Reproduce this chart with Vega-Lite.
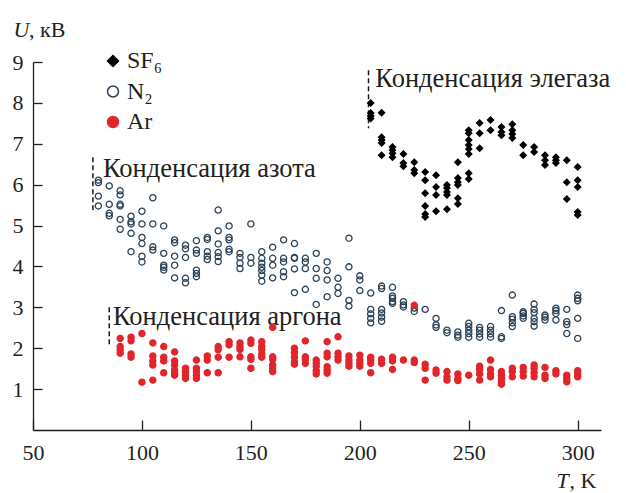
{
"$schema":"https://vega.github.io/schema/vega-lite/v6.json",
"width":568,"height":368,
"autosize":"none",
"padding":{"left":33,"top":62,"right":25,"bottom":63},
"background":"white",
"config":{"view":{"stroke":null},"font":"'Liberation Serif', serif"},
"datasets":{
"notes":[
{"T":82.1,"U":6.19,"label":"Конденсация азота"},
{"T":207.1,"U":8.39,"label":"Конденсация элегаза"},
{"T":86.7,"U":2.57,"label":"Конденсация аргона"}],
"lines":[
{"T":77.5,"U1":6.67,"U2":5.38},
{"T":204,"U1":8.8,"U2":7.38},
{"T":85,"U1":3.0,"U2":2.08}],
"pts":[
{"gas":"SF6","T":205,"U":8.0},{"gas":"SF6","T":205,"U":7.75},{"gas":"SF6","T":205,"U":7.68},{"gas":"SF6","T":205,"U":7.62},
{"gas":"SF6","T":210,"U":7.76},{"gas":"SF6","T":210,"U":7.16},{"gas":"SF6","T":210,"U":7.09},{"gas":"SF6","T":210,"U":7.02},{"gas":"SF6","T":210,"U":6.72},
{"gas":"SF6","T":215,"U":6.92},{"gas":"SF6","T":215,"U":6.85},{"gas":"SF6","T":215,"U":6.77},{"gas":"SF6","T":215,"U":6.67},
{"gas":"SF6","T":220,"U":6.75},{"gas":"SF6","T":220,"U":6.53},{"gas":"SF6","T":220,"U":6.45},
{"gas":"SF6","T":225,"U":6.55},{"gas":"SF6","T":225,"U":6.36},{"gas":"SF6","T":225,"U":6.28},
{"gas":"SF6","T":230,"U":6.31},{"gas":"SF6","T":230,"U":6.11},{"gas":"SF6","T":230,"U":5.79},{"gas":"SF6","T":230,"U":5.48},{"gas":"SF6","T":230,"U":5.28},{"gas":"SF6","T":230,"U":5.21},
{"gas":"SF6","T":235,"U":6.23},{"gas":"SF6","T":235,"U":5.94},{"gas":"SF6","T":235,"U":5.75},{"gas":"SF6","T":235,"U":5.35},
{"gas":"SF6","T":240,"U":5.99},{"gas":"SF6","T":240,"U":5.92},{"gas":"SF6","T":240,"U":5.82},{"gas":"SF6","T":240,"U":5.75},{"gas":"SF6","T":240,"U":5.40},
{"gas":"SF6","T":245,"U":6.55},{"gas":"SF6","T":245,"U":6.16},{"gas":"SF6","T":245,"U":6.06},{"gas":"SF6","T":245,"U":5.99},{"gas":"SF6","T":245,"U":5.67},{"gas":"SF6","T":245,"U":5.53},
{"gas":"SF6","T":250,"U":7.33},{"gas":"SF6","T":250,"U":7.26},{"gas":"SF6","T":250,"U":7.09},{"gas":"SF6","T":250,"U":6.97},{"gas":"SF6","T":250,"U":6.87},{"gas":"SF6","T":250,"U":6.75},{"gas":"SF6","T":250,"U":6.28},{"gas":"SF6","T":250,"U":6.14},
{"gas":"SF6","T":255,"U":7.51},{"gas":"SF6","T":255,"U":7.26},{"gas":"SF6","T":255,"U":6.89},
{"gas":"SF6","T":260,"U":7.58},{"gas":"SF6","T":260,"U":7.33},
{"gas":"SF6","T":265,"U":7.41},{"gas":"SF6","T":265,"U":7.29},{"gas":"SF6","T":265,"U":7.21},
{"gas":"SF6","T":270,"U":7.48},{"gas":"SF6","T":270,"U":7.33},{"gas":"SF6","T":270,"U":7.24},{"gas":"SF6","T":270,"U":7.14},
{"gas":"SF6","T":275,"U":6.97},{"gas":"SF6","T":275,"U":6.72},
{"gas":"SF6","T":280,"U":6.92},{"gas":"SF6","T":280,"U":6.80},
{"gas":"SF6","T":285,"U":6.72},{"gas":"SF6","T":285,"U":6.60},{"gas":"SF6","T":285,"U":6.48},
{"gas":"SF6","T":290,"U":6.67},{"gas":"SF6","T":290,"U":6.60},{"gas":"SF6","T":290,"U":6.53},
{"gas":"SF6","T":295,"U":6.60},{"gas":"SF6","T":295,"U":6.06},{"gas":"SF6","T":295,"U":5.65},
{"gas":"SF6","T":300,"U":6.43},{"gas":"SF6","T":300,"U":6.11},{"gas":"SF6","T":300,"U":5.94},{"gas":"SF6","T":300,"U":5.33},{"gas":"SF6","T":300,"U":5.26},
{"gas":"N2","T":80,"U":6.11},{"gas":"N2","T":80,"U":6.05},{"gas":"N2","T":80,"U":5.72},{"gas":"N2","T":80,"U":5.48},
{"gas":"N2","T":85,"U":5.97},{"gas":"N2","T":85,"U":5.52},{"gas":"N2","T":85,"U":5.30},{"gas":"N2","T":85,"U":5.24},
{"gas":"N2","T":90,"U":5.85},{"gas":"N2","T":90,"U":5.75},{"gas":"N2","T":90,"U":5.52},{"gas":"N2","T":90,"U":5.48},{"gas":"N2","T":90,"U":5.15},{"gas":"N2","T":90,"U":4.91},
{"gas":"N2","T":95,"U":5.23},{"gas":"N2","T":95,"U":5.09},{"gas":"N2","T":95,"U":5.04},{"gas":"N2","T":95,"U":4.81},{"gas":"N2","T":95,"U":4.36},
{"gas":"N2","T":100,"U":5.35},{"gas":"N2","T":100,"U":5.04},{"gas":"N2","T":100,"U":4.71},{"gas":"N2","T":100,"U":4.56},{"gas":"N2","T":100,"U":4.25},{"gas":"N2","T":100,"U":4.11},
{"gas":"N2","T":105,"U":5.68},{"gas":"N2","T":105,"U":5.04},{"gas":"N2","T":105,"U":4.48},{"gas":"N2","T":105,"U":4.40},
{"gas":"N2","T":110,"U":4.99},{"gas":"N2","T":110,"U":4.32},{"gas":"N2","T":110,"U":4.03},{"gas":"N2","T":110,"U":3.98},{"gas":"N2","T":110,"U":3.91},
{"gas":"N2","T":115,"U":4.65},{"gas":"N2","T":115,"U":4.58},{"gas":"N2","T":115,"U":4.25},{"gas":"N2","T":115,"U":4.03},{"gas":"N2","T":115,"U":3.72},
{"gas":"N2","T":120,"U":4.52},{"gas":"N2","T":120,"U":4.43},{"gas":"N2","T":120,"U":4.22},{"gas":"N2","T":120,"U":3.71},{"gas":"N2","T":120,"U":3.60},
{"gas":"N2","T":125,"U":4.63},{"gas":"N2","T":125,"U":4.40},{"gas":"N2","T":125,"U":4.32},{"gas":"N2","T":125,"U":3.91},{"gas":"N2","T":125,"U":3.83},{"gas":"N2","T":125,"U":3.75},
{"gas":"N2","T":130,"U":4.71},{"gas":"N2","T":130,"U":4.66},{"gas":"N2","T":130,"U":4.36},{"gas":"N2","T":130,"U":4.25},{"gas":"N2","T":130,"U":4.17},
{"gas":"N2","T":135,"U":5.38},{"gas":"N2","T":135,"U":4.87},{"gas":"N2","T":135,"U":4.55},{"gas":"N2","T":135,"U":4.34},{"gas":"N2","T":135,"U":4.24},{"gas":"N2","T":135,"U":4.12},
{"gas":"N2","T":140,"U":4.99},{"gas":"N2","T":140,"U":4.71},{"gas":"N2","T":140,"U":4.65},{"gas":"N2","T":140,"U":4.42},{"gas":"N2","T":140,"U":4.36},
{"gas":"N2","T":145,"U":4.32},{"gas":"N2","T":145,"U":4.22},{"gas":"N2","T":145,"U":4.08},{"gas":"N2","T":145,"U":3.95},
{"gas":"N2","T":150,"U":5.04},{"gas":"N2","T":150,"U":4.22},{"gas":"N2","T":150,"U":4.08},
{"gas":"N2","T":155,"U":4.36},{"gas":"N2","T":155,"U":4.20},{"gas":"N2","T":155,"U":4.08},{"gas":"N2","T":155,"U":3.98},{"gas":"N2","T":155,"U":3.90},{"gas":"N2","T":155,"U":3.79},{"gas":"N2","T":155,"U":3.64},
{"gas":"N2","T":160,"U":4.47},{"gas":"N2","T":160,"U":4.20},{"gas":"N2","T":160,"U":4.03},{"gas":"N2","T":160,"U":3.72},
{"gas":"N2","T":165,"U":4.65},{"gas":"N2","T":165,"U":4.20},{"gas":"N2","T":165,"U":4.11},{"gas":"N2","T":165,"U":3.87},{"gas":"N2","T":165,"U":3.75},
{"gas":"N2","T":170,"U":4.56},{"gas":"N2","T":170,"U":4.22},{"gas":"N2","T":170,"U":4.20},{"gas":"N2","T":170,"U":3.94},{"gas":"N2","T":170,"U":3.36},
{"gas":"N2","T":175,"U":4.20},{"gas":"N2","T":175,"U":4.11},{"gas":"N2","T":175,"U":3.95},{"gas":"N2","T":175,"U":3.44},
{"gas":"N2","T":180,"U":4.32},{"gas":"N2","T":180,"U":3.95},{"gas":"N2","T":180,"U":3.71},{"gas":"N2","T":180,"U":3.07},
{"gas":"N2","T":185,"U":4.11},{"gas":"N2","T":185,"U":3.90},{"gas":"N2","T":185,"U":3.67},{"gas":"N2","T":185,"U":3.26},
{"gas":"N2","T":190,"U":3.71},{"gas":"N2","T":190,"U":3.49},{"gas":"N2","T":190,"U":3.34},
{"gas":"N2","T":195,"U":4.69},{"gas":"N2","T":195,"U":3.99},{"gas":"N2","T":195,"U":3.17},{"gas":"N2","T":195,"U":3.03},
{"gas":"N2","T":200,"U":3.77},{"gas":"N2","T":200,"U":3.67},{"gas":"N2","T":200,"U":3.41},
{"gas":"N2","T":205,"U":3.35},{"gas":"N2","T":205,"U":2.95},{"gas":"N2","T":205,"U":2.84},{"gas":"N2","T":205,"U":2.73},{"gas":"N2","T":205,"U":2.62},
{"gas":"N2","T":210,"U":3.52},{"gas":"N2","T":210,"U":3.46},{"gas":"N2","T":210,"U":2.95},{"gas":"N2","T":210,"U":2.86},{"gas":"N2","T":210,"U":2.76},{"gas":"N2","T":210,"U":2.66},
{"gas":"N2","T":215,"U":3.49},{"gas":"N2","T":215,"U":3.28},{"gas":"N2","T":215,"U":3.22},{"gas":"N2","T":215,"U":3.14},{"gas":"N2","T":215,"U":3.10},
{"gas":"N2","T":220,"U":3.14},{"gas":"N2","T":220,"U":3.06},{"gas":"N2","T":220,"U":3.01},
{"gas":"N2","T":225,"U":2.98},{"gas":"N2","T":225,"U":2.90},
{"gas":"N2","T":230,"U":2.95},
{"gas":"N2","T":235,"U":2.73},{"gas":"N2","T":235,"U":2.57},{"gas":"N2","T":235,"U":2.51},
{"gas":"N2","T":240,"U":2.44},{"gas":"N2","T":240,"U":2.38},
{"gas":"N2","T":245,"U":2.40},{"gas":"N2","T":245,"U":2.32},{"gas":"N2","T":245,"U":2.27},
{"gas":"N2","T":250,"U":2.61},{"gas":"N2","T":250,"U":2.53},{"gas":"N2","T":250,"U":2.44},{"gas":"N2","T":250,"U":2.36},{"gas":"N2","T":250,"U":2.27},
{"gas":"N2","T":255,"U":2.51},{"gas":"N2","T":255,"U":2.44},{"gas":"N2","T":255,"U":2.35},{"gas":"N2","T":255,"U":2.27},
{"gas":"N2","T":260,"U":2.53},{"gas":"N2","T":260,"U":2.44},{"gas":"N2","T":260,"U":2.35},{"gas":"N2","T":260,"U":2.27},
{"gas":"N2","T":265,"U":2.92},{"gas":"N2","T":265,"U":2.28},{"gas":"N2","T":265,"U":2.24},
{"gas":"N2","T":270,"U":3.30},{"gas":"N2","T":270,"U":2.77},{"gas":"N2","T":270,"U":2.71},{"gas":"N2","T":270,"U":2.62},{"gas":"N2","T":270,"U":2.53},
{"gas":"N2","T":275,"U":2.89},{"gas":"N2","T":275,"U":2.85},{"gas":"N2","T":275,"U":2.79},{"gas":"N2","T":275,"U":2.73},
{"gas":"N2","T":280,"U":3.08},{"gas":"N2","T":280,"U":2.95},{"gas":"N2","T":280,"U":2.87},{"gas":"N2","T":280,"U":2.73},{"gas":"N2","T":280,"U":2.65},{"gas":"N2","T":280,"U":2.54},
{"gas":"N2","T":285,"U":2.81},{"gas":"N2","T":285,"U":2.76},{"gas":"N2","T":285,"U":2.69},
{"gas":"N2","T":290,"U":2.98},{"gas":"N2","T":290,"U":2.92},{"gas":"N2","T":290,"U":2.85},{"gas":"N2","T":290,"U":2.69},
{"gas":"N2","T":295,"U":2.95},{"gas":"N2","T":295,"U":2.65},{"gas":"N2","T":295,"U":2.58},{"gas":"N2","T":295,"U":2.36},
{"gas":"N2","T":300,"U":3.30},{"gas":"N2","T":300,"U":3.22},{"gas":"N2","T":300,"U":3.16},{"gas":"N2","T":300,"U":2.73},{"gas":"N2","T":300,"U":2.24},
{"gas":"Ar","T":90,"U":2.24},{"gas":"Ar","T":90,"U":2.04},{"gas":"Ar","T":90,"U":1.96},{"gas":"Ar","T":90,"U":1.88},
{"gas":"Ar","T":95,"U":2.27},{"gas":"Ar","T":95,"U":2.18},{"gas":"Ar","T":95,"U":1.86},{"gas":"Ar","T":95,"U":1.78},
{"gas":"Ar","T":100,"U":2.36},{"gas":"Ar","T":100,"U":1.17},
{"gas":"Ar","T":105,"U":2.13},{"gas":"Ar","T":105,"U":1.81},{"gas":"Ar","T":105,"U":1.69},{"gas":"Ar","T":105,"U":1.59},{"gas":"Ar","T":105,"U":1.22},
{"gas":"Ar","T":110,"U":2.04},{"gas":"Ar","T":110,"U":1.78},{"gas":"Ar","T":110,"U":1.69},{"gas":"Ar","T":110,"U":1.40},
{"gas":"Ar","T":115,"U":1.91},{"gas":"Ar","T":115,"U":1.69},{"gas":"Ar","T":115,"U":1.59},{"gas":"Ar","T":115,"U":1.47},{"gas":"Ar","T":115,"U":1.39},{"gas":"Ar","T":115,"U":1.34},
{"gas":"Ar","T":120,"U":1.51},{"gas":"Ar","T":120,"U":1.43},{"gas":"Ar","T":120,"U":1.34},{"gas":"Ar","T":120,"U":1.26},
{"gas":"Ar","T":125,"U":1.71},{"gas":"Ar","T":125,"U":1.51},{"gas":"Ar","T":125,"U":1.43},{"gas":"Ar","T":125,"U":1.34},{"gas":"Ar","T":125,"U":1.26},
{"gas":"Ar","T":130,"U":1.81},{"gas":"Ar","T":130,"U":1.71},{"gas":"Ar","T":130,"U":1.40},
{"gas":"Ar","T":135,"U":2.04},{"gas":"Ar","T":135,"U":1.96},{"gas":"Ar","T":135,"U":1.78},{"gas":"Ar","T":135,"U":1.40},
{"gas":"Ar","T":140,"U":2.16},{"gas":"Ar","T":140,"U":2.08},{"gas":"Ar","T":140,"U":1.78},
{"gas":"Ar","T":145,"U":2.13},{"gas":"Ar","T":145,"U":2.04},{"gas":"Ar","T":145,"U":1.97},{"gas":"Ar","T":145,"U":1.79},
{"gas":"Ar","T":150,"U":2.20},{"gas":"Ar","T":150,"U":2.12},{"gas":"Ar","T":150,"U":1.79},{"gas":"Ar","T":150,"U":1.73},{"gas":"Ar","T":150,"U":1.51},
{"gas":"Ar","T":155,"U":2.16},{"gas":"Ar","T":155,"U":2.05},{"gas":"Ar","T":155,"U":1.97},{"gas":"Ar","T":155,"U":1.86},{"gas":"Ar","T":155,"U":1.78},
{"gas":"Ar","T":160,"U":2.51},{"gas":"Ar","T":160,"U":1.79},{"gas":"Ar","T":160,"U":1.73},{"gas":"Ar","T":160,"U":1.59},{"gas":"Ar","T":160,"U":1.51},{"gas":"Ar","T":160,"U":1.43},
{"gas":"Ar","T":170,"U":2.00},{"gas":"Ar","T":170,"U":1.89},{"gas":"Ar","T":170,"U":1.78},{"gas":"Ar","T":170,"U":1.67},{"gas":"Ar","T":170,"U":1.61},
{"gas":"Ar","T":175,"U":2.18},{"gas":"Ar","T":175,"U":1.79},{"gas":"Ar","T":175,"U":1.73},{"gas":"Ar","T":175,"U":1.63},
{"gas":"Ar","T":180,"U":1.71},{"gas":"Ar","T":180,"U":1.63},{"gas":"Ar","T":180,"U":1.55},{"gas":"Ar","T":180,"U":1.45},{"gas":"Ar","T":180,"U":1.37},
{"gas":"Ar","T":185,"U":2.16},{"gas":"Ar","T":185,"U":1.88},{"gas":"Ar","T":185,"U":1.79},{"gas":"Ar","T":185,"U":1.55},{"gas":"Ar","T":185,"U":1.47},{"gas":"Ar","T":185,"U":1.39},
{"gas":"Ar","T":190,"U":2.28},{"gas":"Ar","T":190,"U":1.88},{"gas":"Ar","T":190,"U":1.79},{"gas":"Ar","T":190,"U":1.71},
{"gas":"Ar","T":195,"U":1.81},{"gas":"Ar","T":195,"U":1.71},{"gas":"Ar","T":195,"U":1.63},{"gas":"Ar","T":195,"U":1.56},
{"gas":"Ar","T":200,"U":1.83},{"gas":"Ar","T":200,"U":1.71},{"gas":"Ar","T":200,"U":1.63},{"gas":"Ar","T":200,"U":1.56},
{"gas":"Ar","T":205,"U":1.78},{"gas":"Ar","T":205,"U":1.71},{"gas":"Ar","T":205,"U":1.63},{"gas":"Ar","T":205,"U":1.40},
{"gas":"Ar","T":210,"U":1.73},{"gas":"Ar","T":210,"U":1.63},
{"gas":"Ar","T":215,"U":1.78},{"gas":"Ar","T":215,"U":1.69},{"gas":"Ar","T":215,"U":1.48},
{"gas":"Ar","T":220,"U":1.71},
{"gas":"Ar","T":225,"U":3.05},{"gas":"Ar","T":225,"U":1.71},{"gas":"Ar","T":225,"U":1.65},
{"gas":"Ar","T":230,"U":1.61},{"gas":"Ar","T":230,"U":1.51},{"gas":"Ar","T":230,"U":1.22},
{"gas":"Ar","T":235,"U":1.47},{"gas":"Ar","T":235,"U":1.39},
{"gas":"Ar","T":240,"U":1.43},{"gas":"Ar","T":240,"U":1.30},{"gas":"Ar","T":240,"U":1.22},
{"gas":"Ar","T":245,"U":1.37},{"gas":"Ar","T":245,"U":1.26},{"gas":"Ar","T":245,"U":1.21},
{"gas":"Ar","T":250,"U":1.34},
{"gas":"Ar","T":255,"U":1.56},{"gas":"Ar","T":255,"U":1.48},{"gas":"Ar","T":255,"U":1.37},{"gas":"Ar","T":255,"U":1.22},
{"gas":"Ar","T":260,"U":1.71},{"gas":"Ar","T":260,"U":1.48},{"gas":"Ar","T":260,"U":1.37},{"gas":"Ar","T":260,"U":1.30},
{"gas":"Ar","T":265,"U":1.43},{"gas":"Ar","T":265,"U":1.34},{"gas":"Ar","T":265,"U":1.26},{"gas":"Ar","T":265,"U":1.18},{"gas":"Ar","T":265,"U":1.12},
{"gas":"Ar","T":270,"U":1.51},{"gas":"Ar","T":270,"U":1.43},{"gas":"Ar","T":270,"U":1.30},
{"gas":"Ar","T":275,"U":1.53},{"gas":"Ar","T":275,"U":1.43},{"gas":"Ar","T":275,"U":1.32},
{"gas":"Ar","T":280,"U":1.59},{"gas":"Ar","T":280,"U":1.51},{"gas":"Ar","T":280,"U":1.40},{"gas":"Ar","T":280,"U":1.30},
{"gas":"Ar","T":285,"U":1.53},{"gas":"Ar","T":285,"U":1.34},{"gas":"Ar","T":285,"U":1.26},
{"gas":"Ar","T":290,"U":1.45},{"gas":"Ar","T":290,"U":1.37},
{"gas":"Ar","T":295,"U":1.34},{"gas":"Ar","T":295,"U":1.26},{"gas":"Ar","T":295,"U":1.18},
{"gas":"Ar","T":300,"U":1.45},{"gas":"Ar","T":300,"U":1.37},{"gas":"Ar","T":300,"U":1.30}
]},
"resolve":{"axis":{"x":"independent","y":"independent"}},
"layer":[
{"data":{"name":"lines"},
 "mark":{"type":"rule","color":"#1a1a1a","strokeWidth":1.5,"strokeDash":[5,3]},
 "encoding":{
  "x":{"field":"T","type":"quantitative","scale":{"domain":[50,310.7],"nice":false,"zero":false},
   "axis":{"orient":"bottom","domain":false,"ticks":false,"labels":false,"grid":false,"title":", K","titleFont":"'Liberation Serif', serif","titleFontSize":22,"titleFontWeight":"normal","titleColor":"#231f20","titleAlign":"left","titleBaseline":"alphabetic","titleAnchor":null,"titleX":536,"titleY":57}},
  "y":{"field":"U1","type":"quantitative","scale":{"domain":[0,9],"nice":false,"zero":true},
   "axis":{"orient":"left","domain":false,"ticks":false,"labels":false,"grid":false,"title":", кВ","titleFont":"'Liberation Serif', serif","titleFontSize":22,"titleFontWeight":"normal","titleColor":"#231f20","titleAngle":0,"titleAlign":"left","titleBaseline":"alphabetic","titleAnchor":null,"titleX":-4.5,"titleY":-26}},
  "y2":{"field":"U2"}}},
{"data":{"name":"notes"},
 "mark":{"type":"text","align":"left","baseline":"alphabetic","font":"'Liberation Serif', serif","fontSize":26.5,"color":"#231f20"},
 "encoding":{
  "x":{"field":"T","type":"quantitative","axis":null},
  "y":{"field":"U","type":"quantitative","axis":null},
  "text":{"field":"label","type":"nominal"}}},
{"data":{"name":"pts"},
 "mark":{"type":"point","filled":true,"strokeWidth":1.3,"opacity":1,"size":38},
 "encoding":{
  "x":{"field":"T","type":"quantitative",
   "axis":{"orient":"bottom","values":[50,100,150,200,250,300],"grid":false,"domainColor":"#231f20","domainWidth":1.3,"tickColor":"#231f20","tickWidth":1.3,"tickSize":-10,"labelPadding":22,"labelFont":"'Liberation Serif', serif","labelFontSize":22,"labelColor":"#231f20","labelFlush":false,"title":"T","titleFont":"'Liberation Serif', serif","titleFontSize":22,"titleFontWeight":"normal","titleFontStyle":"italic","titleColor":"#231f20","titleAlign":"left","titleBaseline":"alphabetic","titleAnchor":null,"titleX":523,"titleY":57}},
  "y":{"field":"U","type":"quantitative",
   "axis":{"orient":"left","values":[1,2,3,4,5,6,7,8,9],"grid":false,"domainColor":"#231f20","domainWidth":1.3,"tickColor":"#231f20","tickWidth":1.3,"tickSize":-9,"labelPadding":19,"labelFont":"'Liberation Serif', serif","labelFontSize":22,"labelColor":"#231f20","labelFlush":false,"title":"U","titleFont":"'Liberation Serif', serif","titleFontSize":22,"titleFontWeight":"normal","titleFontStyle":"italic","titleColor":"#231f20","titleAngle":0,"titleAlign":"left","titleBaseline":"alphabetic","titleAnchor":null,"titleX":-20,"titleY":-26}},
  "shape":{"field":"gas","type":"nominal","scale":{"domain":["SF6","N2","Ar"],"range":["diamond","circle","circle"]},
   "legend":{"title":null,"orient":"none","legendX":68,"legendY":-13,"labelFont":"'Liberation Serif', serif","labelFontSize":24,"labelColor":"#231f20","symbolSize":120,"symbolStrokeWidth":1.5,"rowPadding":6.5,"labelOffset":2,"labelExpr":"datum.label == 'SF6' ? 'SF₆' : datum.label == 'N2' ? 'N₂' : datum.label"}},
  "fill":{"field":"gas","type":"nominal","scale":{"domain":["SF6","N2","Ar"],"range":["#000000","transparent","#e1262b"]},
   "legend":{"title":null,"orient":"none","legendX":68,"legendY":-13,"labelFont":"'Liberation Serif', serif","labelFontSize":24,"labelColor":"#231f20","symbolSize":120,"symbolStrokeWidth":1.5,"rowPadding":6.5,"labelOffset":2,"labelExpr":"datum.label == 'SF6' ? 'SF₆' : datum.label == 'N2' ? 'N₂' : datum.label"}},
  "stroke":{"field":"gas","type":"nominal","scale":{"domain":["SF6","N2","Ar"],"range":["#000000","#2b4257","#e1262b"]},
   "legend":{"title":null,"orient":"none","legendX":68,"legendY":-13,"labelFont":"'Liberation Serif', serif","labelFontSize":24,"labelColor":"#231f20","symbolSize":120,"symbolStrokeWidth":1.5,"rowPadding":6.5,"labelOffset":2,"labelExpr":"datum.label == 'SF6' ? 'SF₆' : datum.label == 'N2' ? 'N₂' : datum.label"}}
 }}
]
}
